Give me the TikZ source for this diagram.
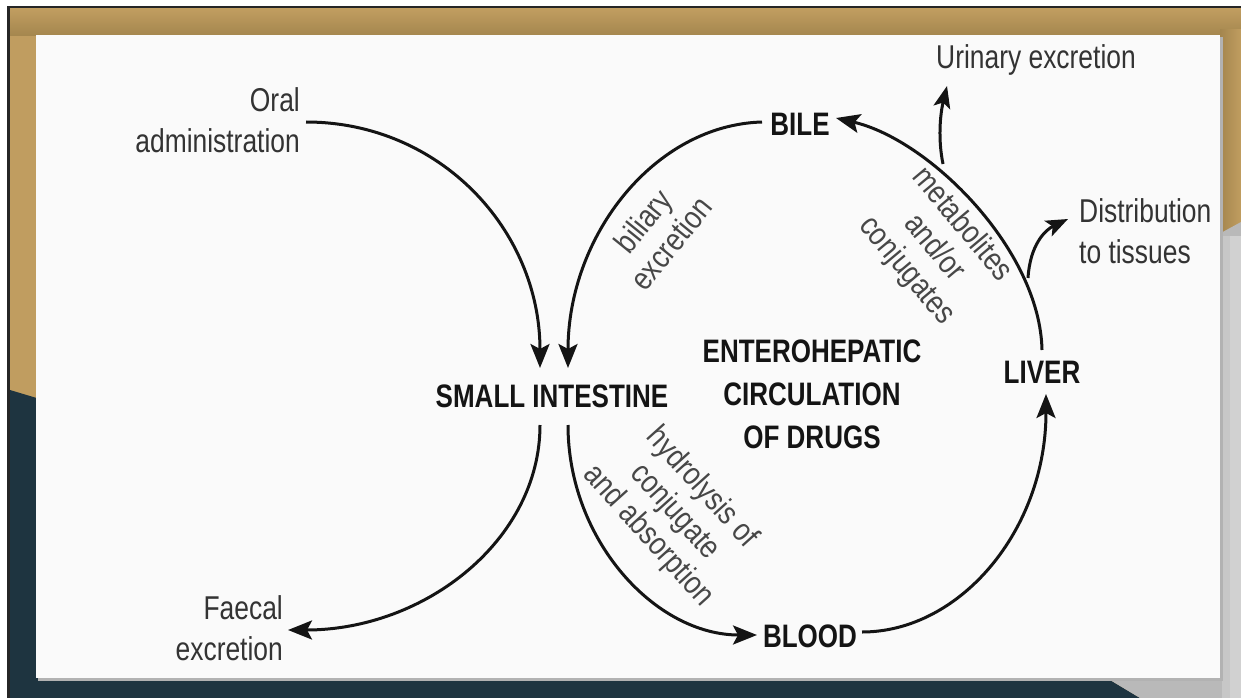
\documentclass[tikz,border=0pt]{standalone}
\usepackage{fontspec}
\setmainfont{Liberation Sans}[FakeStretch=0.8]
\newfontfamily\notefont{Liberation Sans}[FakeStretch=0.84]
\usetikzlibrary{arrows.meta,calc}
\definecolor{gold}{HTML}{C09D60}
\definecolor{golddark}{HTML}{A4864E}
\definecolor{navy}{HTML}{1E3440}
\definecolor{greyside}{HTML}{B9B9B9}
\definecolor{panel}{HTML}{FAFAFA}
\tikzset{
  lbl/.style={font=\fontsize{33}{41}\selectfont, text=black!80, inner sep=0pt},
  big/.style={font=\bfseries\fontsize{32.5}{43}\selectfont, text=black!92, inner sep=0pt, align=center},
  note/.style={font=\notefont\fontsize{32}{36}\selectfont, text=black!72, inner sep=0pt, align=center},
  flow/.style={line width=3pt, black!92, -{Stealth[length=24pt,width=19pt,inset=5pt]}},
  branch/.style={line width=3pt, black!92, -{Stealth[length=22pt,width=17pt,inset=5pt]}}
}
\begin{document}
\begin{tikzpicture}[x=1pt,y=-1pt]
\useasboundingbox (0,0) rectangle (1241,698);
% ---------- background ----------
\fill[white] (0,0) rectangle (1241,698);
\fill[black!85] (7,6) rectangle (1241,9);
\fill[black!85] (7,6) rectangle (10,698);
\fill[gold] (10,9) rectangle (1241,698);
\shade[top color=gold, bottom color=golddark] (10,9) rectangle (1241,36);
\shade[left color=golddark, right color=gold] (1220,30) rectangle (1241,240);
\fill[navy] (10,390) -- (40,399) -- (40,680) -- (1110,680) -- (1140,698) -- (10,698) -- cycle;
\fill[greyside] (1219,234) -- (1241,222) -- (1241,698) -- (1140,698) -- (1110,680) -- (1219,680) -- cycle;
\fill[black!22] (1222,236) rectangle (1241,698);
\fill[black!18] (1230,236) rectangle (1241,698);
\fill[black!30] (38,37) rectangle (1223,681);
\fill[panel] (36,35) rectangle (1220,678);
% ---------- nodes ----------
\node[lbl, align=right, anchor=east] (oral) at (300,120) {Oral\\administration};
\node[lbl, align=right, anchor=east] (faecal) at (283,628) {Faecal\\excretion};
\node[big] (si) at (552,396) {SMALL INTESTINE};
\node[big] (bile) at (800,124) {BILE};
\node[big] (blood) at (810,636) {BLOOD};
\node[big] (liver) at (1042,372) {LIVER};
\node[big] (ehc) at (812,394) {ENTEROHEPATIC\\CIRCULATION\\OF DRUGS};
\node[lbl] (urin) at (1036,60) {Urinary excretion};
\node[lbl, align=left, anchor=west] (dist) at (1079,231) {Distribution\\to tissues};
\node[note, rotate=51] (bil) at (657,232) {biliary\\excretion};
\node[note, rotate=-50] (met) at (934,248) {metabolites\\and/or\\conjugates};
\node[note, rotate=-48] (hyd) at (675,512) {hydrolysis of\\conjugate\\and absorption};
% ---------- anchor points ----------
\coordinate (oralout) at (306,122);
\coordinate (siinL) at (540,368);
\coordinate (sioutL) at (540,425);
\coordinate (faecin) at (288,630);
\coordinate (bileout) at (762,122);
\coordinate (siinR) at (568,368);
\coordinate (sioutR) at (568,425);
\coordinate (bloodin) at (757,635);
\coordinate (bloodout) at (862,632);
\coordinate (liverin) at (1046,394);
\coordinate (liverout) at (1042,350);
\coordinate (bilein) at (836,118);
\coordinate (urbase) at (943,164);
\coordinate (urtip) at (947,86);
\coordinate (dibase) at (1028,278);
\coordinate (ditip) at (1068,219);
% ---------- connectors ----------
\draw[flow] (oralout) .. controls (440,122) and (540,230) .. (siinL);
\draw[flow] (sioutL) .. controls (540,540) and (425,630) .. (faecin);
\draw[flow] (bileout) .. controls (655,125) and (568,235) .. (siinR);
\draw[flow] (sioutR) .. controls (568,540) and (655,635) .. (bloodin);
\draw[flow] (bloodout) .. controls (960,632) and (1046,530) .. (liverin);
\draw[flow] (liverout) .. controls (1040,250) and (930,140) .. (bilein);
\draw[branch] (urbase) .. controls (938,140) and (940,115) .. (urtip);
\draw[branch] (dibase) .. controls (1030,245) and (1045,230) .. (ditip);
\end{tikzpicture}
\end{document}
